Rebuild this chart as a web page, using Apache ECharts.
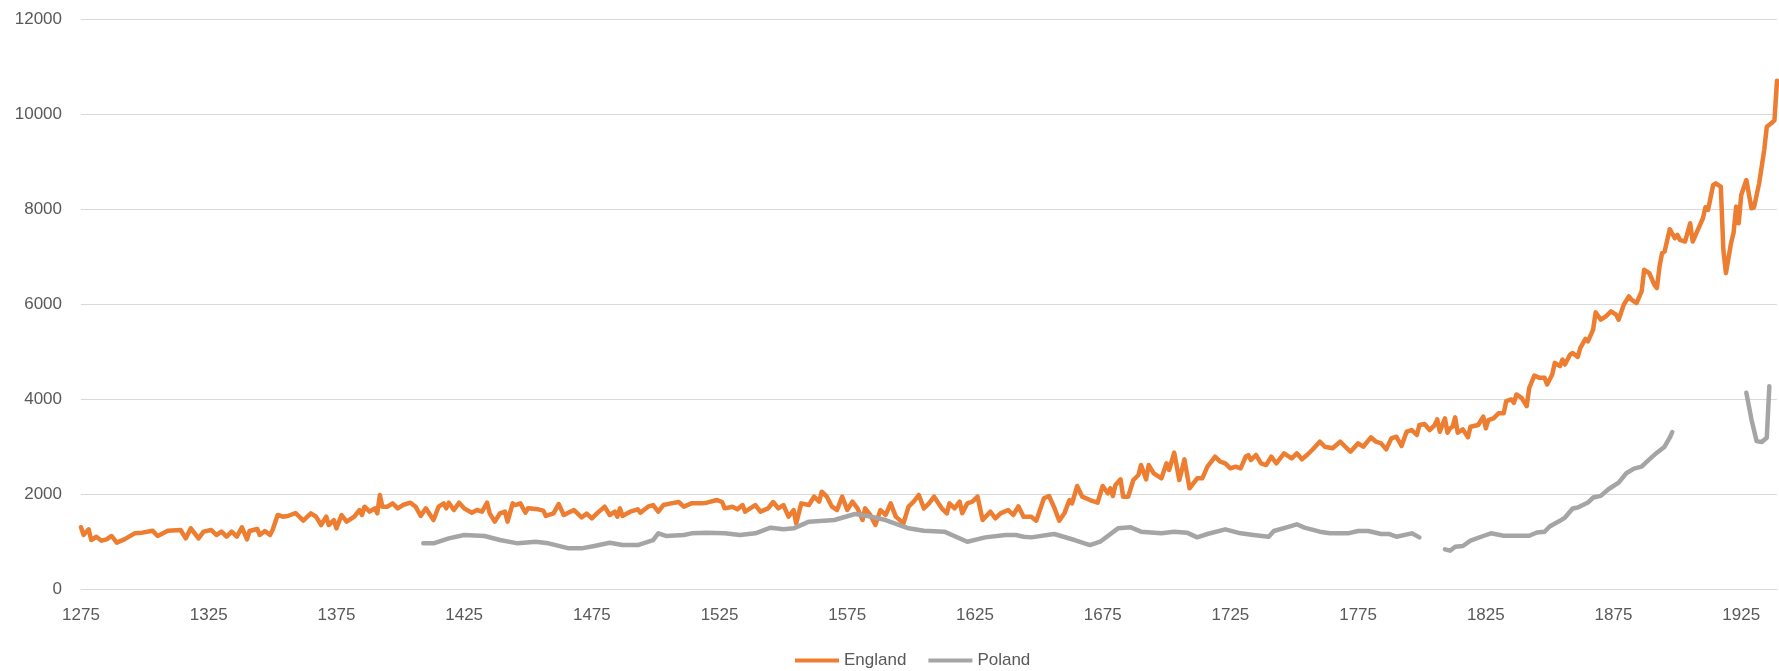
<!DOCTYPE html>
<html>
<head>
<meta charset="utf-8">
<title>GDP per capita England Poland</title>
<script src="https://cdn.jsdelivr.net/npm/echarts@6/dist/echarts.min.js"></script>
<style>
html,body{margin:0;padding:0;background:#fff;}
#chart{width:1779px;height:671px;}
</style>
</head>
<body>
<div id="chart"></div>
<script>
var START_YEAR = 1275;
var END_YEAR = 1939;

var engYears = [1275,1276,1278,1279,1281,1283,1285,1287,1289,1292,1296,1299,1303,1305,1309,1314,1316,1318,1321,1323,
    1326,1328,1330,1332,1334,1336,1338,1340,1341,1344,1345,1347,1349,1350,1352,1354,1356,1359,1362,1365,
    1367,1369,1371,1372,1374,1375,1377,1379,1382,1384,1385,1386,1388,1390,1391,1392,1393,1395,1397,1399,
    1401,1404,1406,1408,1410,1413,1415,1417,1418,1419,1421,1423,1425,1428,1430,1432,1434,1435,1437,1439,
    1441,1442,1444,1445,1447,1449,1450,1454,1456,1457,1460,1462,1464,1468,1471,1473,1475,1477,1480,1482,
    1484,1485,1486,1487,1490,1493,1494,1497,1499,1501,1503,1506,1509,1511,1514,1518,1520,1524,1526,1527,
    1530,1532,1534,1535,1539,1541,1544,1546,1548,1550,1552,1554,1555,1557,1560,1562,1564,1565,1567,1569,
    1571,1573,1575,1577,1579,1581,1582,1584,1586,1588,1590,1592,1594,1597,1599,1601,1603,1605,1607,1609,
    1612,1614,1615,1617,1619,1620,1622,1624,1626,1628,1631,1633,1635,1638,1640,1642,1644,1647,1649,1652,
    1654,1656,1658,1660,1662,1663,1665,1667,1670,1673,1675,1677,1678,1679,1680,1682,1683,1685,1687,1689,
    1690,1692,1693,1695,1698,1700,1701,1703,1705,1706,1707,1709,1712,1714,1716,1718,1719,1721,1723,1725,
    1727,1729,1731,1732,1733,1735,1737,1739,1741,1743,1746,1749,1751,1753,1755,1757,1760,1762,1765,1768,
    1770,1772,1775,1777,1780,1782,1784,1786,1788,1790,1792,1794,1796,1798,1799,1801,1803,1805,1806,1807,
    1809,1810,1811,1812,1813,1814,1816,1818,1819,1822,1824,1825,1826,1828,1830,1832,1833,1835,1836,1837,
    1839,1841,1842,1844,1846,1848,1849,1851,1852,1854,1855,1856,1858,1859,1861,1862,1864,1865,1867,1868,
    1870,1872,1874,1876,1877,1879,1881,1882,1884,1886,1887,1889,1891,1892,1893,1894,1895,1897,1899,1900,
    1901,1903,1905,1906,1908,1910,1911,1912,1914,1915,1917,1918,1919,1921,1922,1923,1924,1925,1927,1929,
    1930,1932,1934,1935,1937,1938,1939];

var engGdp = [1300,1140,1256,1030,1100,1017,1045,1116,975,1045,1172,1186,1228,1116,1228,1242,1066,1277,1066,1207,
    1242,1137,1207,1101,1207,1101,1298,1045,1221,1263,1137,1221,1137,1242,1558,1522,1537,1600,1440,1593,
    1523,1347,1523,1347,1452,1277,1558,1417,1523,1663,1558,1733,1628,1698,1593,1979,1733,1733,1803,1698,
    1768,1817,1733,1537,1698,1452,1733,1803,1698,1817,1663,1817,1698,1607,1663,1628,1817,1593,1417,1593,
    1628,1417,1803,1768,1803,1607,1698,1677,1650,1537,1593,1789,1558,1663,1509,1586,1488,1593,1733,1558,
    1628,1523,1698,1537,1628,1677,1607,1733,1768,1628,1768,1803,1831,1733,1803,1803,1817,1873,1831,1698,
    1733,1677,1768,1628,1768,1628,1698,1831,1698,1768,1523,1663,1382,1803,1768,1944,1838,2049,1944,1733,
    1663,1944,1663,1838,1698,1452,1698,1558,1347,1663,1558,1803,1523,1382,1733,1838,1979,1698,1803,1944,
    1698,1593,1803,1698,1838,1593,1803,1838,1944,1452,1628,1488,1593,1663,1558,1740,1523,1523,1438,1909,
    1958,1719,1438,1593,1873,1803,2168,1944,1873,1817,2168,2014,2119,1958,2189,2309,1944,1944,2295,2400,
    2610,2309,2610,2435,2330,2646,2505,2870,2294,2505,2730,2119,2330,2330,2575,2715,2785,2680,2646,2540,
    2575,2540,2785,2821,2715,2821,2646,2610,2785,2646,2857,2751,2857,2730,2821,2926,3101,2995,2962,3101,
    2995,2890,3066,2995,3193,3101,3066,2940,3172,3206,3010,3311,3347,3242,3452,3473,3347,3452,3572,3311,
    3593,3290,3382,3417,3614,3290,3361,3193,3417,3452,3627,3382,3557,3593,3700,3700,3955,3990,3920,4095,
    4025,3850,4235,4494,4445,4445,4305,4515,4760,4690,4830,4725,4935,4970,4886,5075,5264,5215,5460,5824,
    5670,5740,5845,5775,5670,5985,6160,6090,6020,6265,6720,6650,6405,6335,6790,7070,7105,7574,7385,7455,
    7350,7315,7700,7315,7560,7805,8036,7980,8505,8540,8470,7140,6650,7280,7500,8050,7700,8295,8610,8015,
    8036,8540,9240,9730,9814,9870,10700];

// null = gap in the series
var polYears = [1409,1413,1419,1425,1433,1439,1446,1453,1458,1466,1471,1476,1482,1487,1493,1499,1501,1504,1511,1514,
    1520,1527,1533,1539,1545,1550,1554,1560,1570,1578,1583,1590,1599,1605,1613,1622,1629,1637,1641,1644,
    1647,1656,1664,1670,1674,1681,1686,1690,1698,1703,1708,1712,1716,1723,1729,1734,1740,1742,1747,1751,
    1754,1760,1764,1771,1775,1779,1784,1787,1790,1796,1799,1804,1809,1811,1813,1816,1819,1824,1827,1832,
    1838,1842,1845,1848,1850,1854,1856,1859,1861,1865,1867,1870,1873,1877,1880,1883,1886,1889,1892,1895,
    1897,1898,1912,1927,1929,1931,1933,1935,1936];

var polGdp = [961,961,1066,1137,1116,1031,961,996,961,856,856,905,975,926,926,1031,1172,1116,1137,1172,
    1186,1172,1137,1172,1291,1256,1277,1418,1452,1579,1537,1452,1277,1228,1207,996,1087,1137,1137,1101,
    1087,1158,1031,926,996,1277,1298,1207,1172,1207,1186,1087,1158,1256,1172,1137,1101,1221,1298,1362,
    1291,1207,1172,1172,1221,1221,1158,1158,1101,1172,1087,null,835,807,891,905,1017,1116,1172,1120,
    1120,1120,1190,1204,1316,1435,1505,1694,1715,1820,1925,1960,2100,2240,2436,2534,2576,2730,2870,2996,
    3185,3304,null,4130,3570,3115,3094,3185,4270];

var yTicks = [0, 2000, 4000, 6000, 8000, 10000, 12000];

function toPoints(years, vals){
    var out = [];
    years.forEach(function(y, i){
        out.push([y - START_YEAR, vals[i] === null ? '-' : vals[i]]);
    });
    return out;
}

var labelFont = {color: '#595959', fontSize: 17, fontFamily: 'Liberation Sans'};

var gdp_chart = echarts.init(document.getElementById('chart'));
var gdp_option = {
    animation: false,
    color: ['#ED7D31', '#A5A5A5'],
    grid: {
        left: 81,
        right: 2,
        top: 19,
        bottom: 82,
        containLabel: false
    },
    legend: {
        left: 790,
        top: 647,
        icon: 'rect',
        itemWidth: 44,
        itemHeight: 4,
        itemGap: 22,
        textStyle: labelFont,
        data: ['England', 'Poland']
    },
    xAxis: {
        type: 'value',
        min: 0,
        max: END_YEAR - START_YEAR,
        interval: 50,
        axisLine: {show: true, lineStyle: {color: '#D9D9D9', width: 1}},
        axisTick: {show: false},
        splitLine: {show: false},
        axisLabel: {
            color: labelFont.color,
            fontSize: labelFont.fontSize,
            fontFamily: labelFont.fontFamily,
            margin: 18,
            showMaxLabel: false,
            formatter: function(v){ return String(v + START_YEAR); }
        }
    },
    yAxis: {
        type: 'value',
        min: yTicks[0],
        max: yTicks[yTicks.length - 1],
        interval: 2000,
        axisLine: {show: false},
        axisTick: {show: false},
        splitLine: {lineStyle: {color: '#D9D9D9', width: 1}},
        axisLabel: {
            color: labelFont.color,
            fontSize: labelFont.fontSize,
            fontFamily: labelFont.fontFamily,
            margin: 19,
            formatter: function(v){ return String(v); }
        }
    },
    series: [
        {
            name: 'England',
            type: 'line',
            showSymbol: false,
            symbol: 'none',
            lineStyle: {width: 4.5, cap: 'round', join: 'round'},
            data: toPoints(engYears, engGdp)
        },
        {
            name: 'Poland',
            type: 'line',
            showSymbol: false,
            symbol: 'none',
            connectNulls: false,
            lineStyle: {width: 4.5, cap: 'round', join: 'round'},
            data: toPoints(polYears, polGdp)
        }
    ]
};
gdp_chart.setOption(gdp_option);
</script>
</body>
</html>
